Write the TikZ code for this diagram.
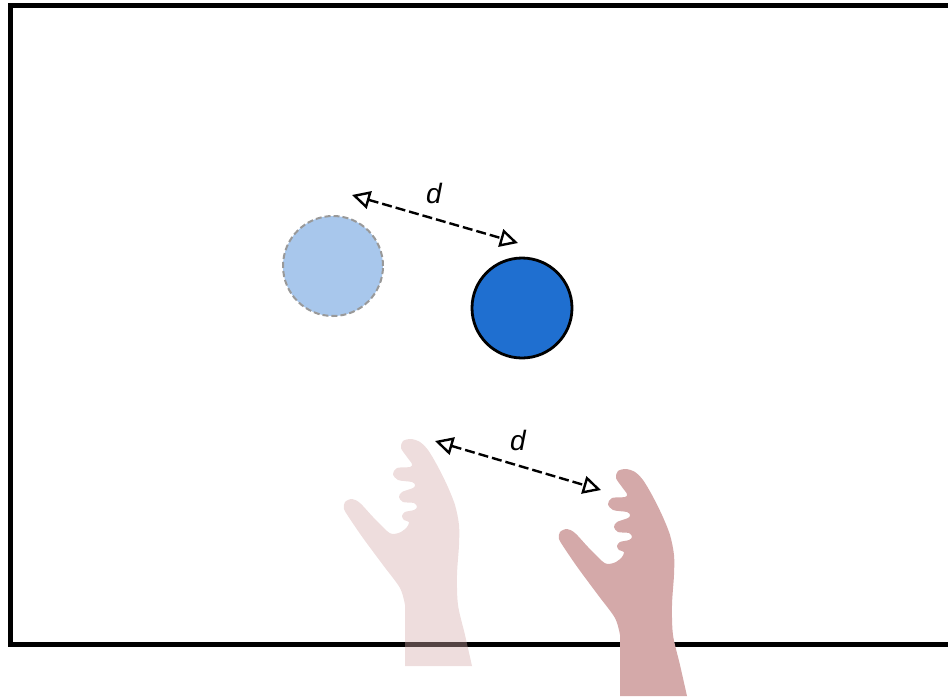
\documentclass[tikz,border=0pt]{standalone}
\usepackage{fontspec}
\setmainfont{Liberation Sans}
\usetikzlibrary{arrows.meta}
\definecolor{skin}{HTML}{D4A9A9}
\definecolor{ballblue}{HTML}{1F6FD0}
\definecolor{ghostblue}{HTML}{A8C7EC}
\tikzstyle{ball}=[circle, minimum size=50pt, inner sep=0pt]
\tikzstyle{gap}=[dashed, dash pattern=on 5pt off 2pt, line width=1.2pt, {Triangle[open, length=9pt, width=9pt]}-{Triangle[open, length=9pt, width=9pt]}]
\tikzstyle{dist}=[font=\fontsize{14}{16}\selectfont\itshape, inner sep=0pt]
\newcommand{\handpath}{(405,666) -- plot[smooth, tension=0.5] coordinates {
    (405,605) (400,588) (383,565) (363,538) (350,519) (344,509) (345,502)
    (352,499) (360,503) (373,517) (387,531) (393,534) (401,532) (407,527)
    (409,522) (404,520) (402,516) (405,512) (414,510) (417,507) (414,503)
    (403,502) (399,497) (402,492) (413,488) (415,485) (412,482) (398,480)
    (393,474) (397,468) (410,467) (412,464) (407,457) (401,448) (403,441)
    (411,439) (420,442) (428,450) (437,465) (447,485) (455,505) (459,525)
    (459,545) (457,575) (458,605) (465,635) (472,666)} -- cycle}

\begin{document}
\begin{tikzpicture}[x=0.5pt, y=-0.5pt]
    \useasboundingbox (0,0) rectangle (948,698);
% Table edge
    \draw[line width=2.5pt] (948,5) -- (10,5) -- (10,644) -- (948,644);
% Balls
    \node[ball, fill=ghostblue, draw=black!40, dashed, dash pattern=on 3pt off 1.5pt, line width=1pt] (ghost) at (333,266) {};
    \node[ball, fill=ballblue, draw=black, line width=1.4pt] (ball) at (522,308) {};
% Hands
    \fill[skin, fill opacity=0.4] \handpath;
    \fill[skin, shift={(215,30)}] \handpath;
% Distances
    \coordinate (ball1) at (352,195);
    \coordinate (ball2) at (518,243);
    \coordinate (hand1) at (435,441);
    \coordinate (hand2) at (601,490);
    \draw[gap] (ball1) -- (ball2);
    \draw[gap] (hand1) -- (hand2);
    \node[dist] (dball) at (434,193) {d};
    \node[dist] (dhand) at (518,440) {d};
\end{tikzpicture}
\end{document}
